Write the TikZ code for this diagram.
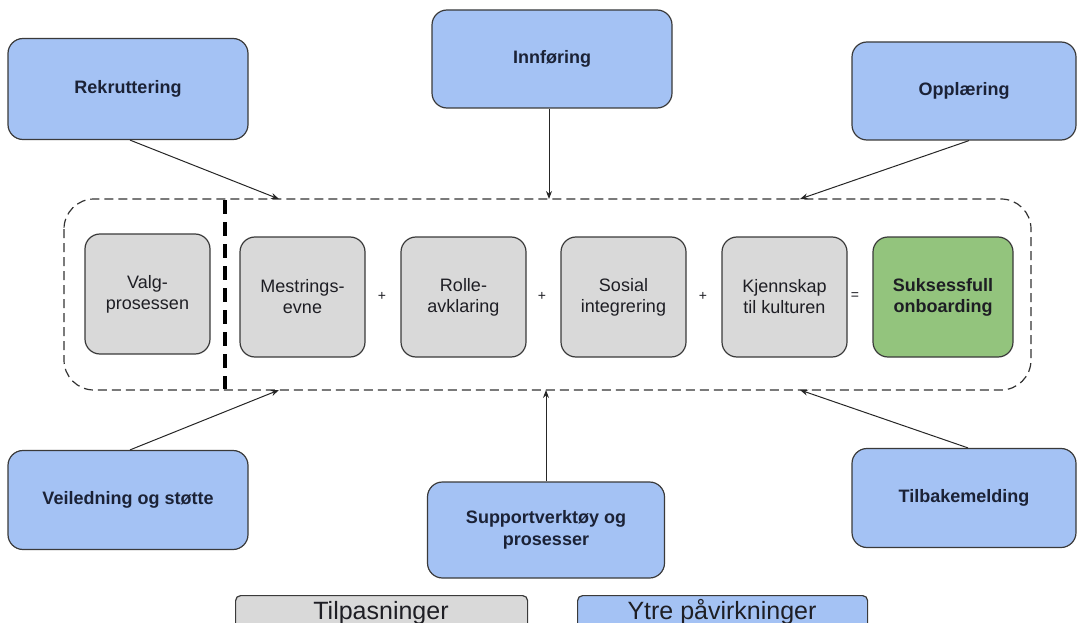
\documentclass[tikz,border=0pt]{standalone}
\usepackage{fontspec}
\setmainfont{Liberation Sans}
\usetikzlibrary{arrows.meta}
\definecolor{blu}{HTML}{A4C2F4}
\definecolor{gry}{HTML}{D9D9D9}
\definecolor{grn}{HTML}{93C47D}
\definecolor{edge}{HTML}{3A3A3A}
\definecolor{txt}{HTML}{1E1E24}
\definecolor{navy}{HTML}{1B2236}
\tikzset{
  box/.style={draw=edge, line width=1.2pt, rounded corners=15pt, align=center, text=txt, inner sep=0pt},
  outer/.style={box, fill=blu, text=navy, font=\fontsize{18}{22}\selectfont\bfseries},
  inner/.style={box, fill=gry, font=\fontsize{18}{21}\selectfont, minimum width=125pt, minimum height=120pt},
  goal/.style={box, fill=grn, font=\fontsize{18}{21}\selectfont\bfseries, minimum width=140pt, minimum height=120pt},
  op/.style={font=\fontsize{14}{14}\selectfont, text=txt},
  arr/.style={draw=black!85, line width=1pt, -{Stealth[length=8pt,width=6pt]}},
  legend/.style={draw=edge, line width=1.2pt, rounded corners=5pt, font=\fontsize{25}{25}\selectfont, text=txt}
}
\begin{document}
\begin{tikzpicture}[x=1pt,y=-1pt]
\useasboundingbox (0,0) rectangle (1082,623);
\begin{scope}
\clip (0,0) rectangle (1082,623);
% legend
\node[legend, fill=gry, minimum width=292pt, minimum height=40pt, anchor=north west] (legA) at (235,595) {};
\node[font=\fontsize{25}{25}\selectfont, text=txt, anchor=base] (legAt) at (381,619) {Tilpasninger};
\node[legend, fill=blu, minimum width=290pt, minimum height=40pt, anchor=north west] (legB) at (577,595) {};
\node[font=\fontsize{25}{25}\selectfont, text=txt, anchor=base] (legBt) at (722,619) {Ytre påvirkninger};
\end{scope}

% dashed container
\draw[draw=black!80, line width=1.2pt, dash pattern=on 9pt off 5pt, rounded corners=30pt] (64,199) rectangle (1031,390);
\coordinate (topL) at (279,199);
\coordinate (topM) at (549,199);
\coordinate (topR) at (800,199);
\coordinate (botL) at (279,390);
\coordinate (botM) at (546,390);
\coordinate (botR) at (800,390);
\coordinate (sepT) at (225,200);
\coordinate (sepB) at (225,389);
\draw[black, line width=3.5pt, dash pattern=on 14pt off 8pt] (sepT) -- (sepB);

% inner boxes
\node[inner] (valg) at (147.5,294) {Valg-\\prosessen};
\node[inner] (mest) at (302.5,297) {Mestrings-\\evne};
\node[inner] (rolle) at (463.5,297) {Rolle-\\avklaring};
\node[inner] (sosial) at (623.5,297) {Sosial\\integrering};
\node[inner] (kjenn) at (784.5,297) {Kjennskap\\til kulturen};
\node[goal] (suk) at (943,297) {Suksessfull\\onboarding};
\node[op] (p1) at (382,296) {+};
\node[op] (p2) at (542,296) {+};
\node[op] (p3) at (703,296) {+};
\node[op] (eq) at (855,296) {=};

% outer influences
\node[outer, minimum width=240pt, minimum height=101pt] (rek) at (128,89) {Rekruttering};
\node[outer, minimum width=240pt, minimum height=98pt] (innf) at (552,59) {Innføring};
\node[outer, minimum width=224pt, minimum height=98pt] (oppl) at (964,91) {Opplæring};
\node[outer, minimum width=240pt, minimum height=99pt] (veil) at (128,500) {Veiledning og støtte};
\node[outer, minimum width=237pt, minimum height=96pt] (supp) at (546,530) {Supportverktøy og\\prosesser};
\node[outer, minimum width=224pt, minimum height=99pt] (tilb) at (964,498) {Tilbakemelding};

\draw[arr] (rek.south) ++(2,0) coordinate (rs) -- (topL);
\draw[arr] (innf.south) ++(-3,0) coordinate (is) -- (topM);
\draw[arr] (oppl.south) ++(5,0) coordinate (os) -- (topR);
\draw[arr] (veil.north) ++(2,0) coordinate (vn) -- (botL);
\draw[arr] (supp.north) -- (botM);
\draw[arr] (tilb.north) ++(4,0) coordinate (tn) -- (botR);
\end{tikzpicture}
\end{document}
